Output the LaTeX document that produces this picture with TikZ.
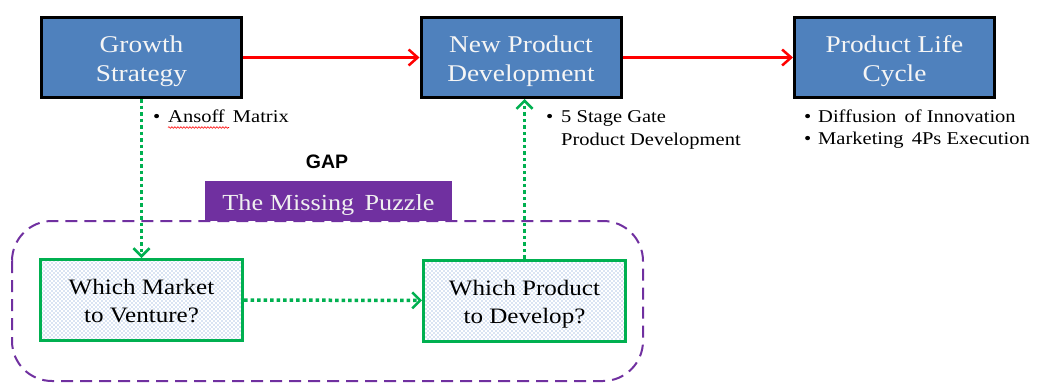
\documentclass[tikz,border=0pt]{standalone}
\usepackage{fontspec}
\setmainfont[FakeStretch=1.14]{Liberation Serif}
\newfontfamily\gapfont{Liberation Sans}
\usetikzlibrary{arrows.meta,patterns,decorations.pathmorphing}
\definecolor{boxblue}{RGB}{79,129,189}
\definecolor{arrred}{RGB}{255,0,0}
\definecolor{grn}{RGB}{0,176,80}
\definecolor{purp}{RGB}{112,48,160}
\definecolor{dotblue}{RGB}{95,140,205}
\pgfdeclarepatternformonly{stipple}{\pgfqpoint{-1pt}{-1pt}}{\pgfqpoint{3pt}{3pt}}{\pgfqpoint{4pt}{4pt}}%
{\pgfpathcircle{\pgfqpoint{0pt}{0pt}}{0.7pt}\pgfpathcircle{\pgfqpoint{2pt}{2pt}}{0.7pt}\pgfusepath{fill}}
\tikzset{
  bluebox/.style={draw=black, line width=3pt, fill=boxblue,
    minimum width=200pt, minimum height=80pt, inner sep=0pt},
  bluetext/.style={text={rgb,255:red,245;green,245;blue,245}, align=center, inner sep=0pt,
    font=\fontsize{24}{29}\selectfont},
  greenbox/.style={draw=grn, line width=3pt, pattern=stipple, pattern color=dotblue,
    minimum width=202pt, minimum height=81pt, inner sep=0pt},
  greentext/.style={align=center, inner sep=0pt, font=\fontsize{22}{28}\selectfont},
  redarrow/.style={draw=arrred, line width=2.5pt, -{Straight Barb[length=9pt,width=16pt,line width=2.5pt]}},
  greenarrow/.style={draw=grn, line width=3.5pt, dash pattern=on 3.5pt off 3pt,
    -{Straight Barb[length=8pt,width=16pt,line width=2.5pt]}},
  bullettext/.style={anchor=base west, inner sep=0pt, font=\fontsize{18}{23}\selectfont},
}
\begin{document}
\begin{tikzpicture}[x=1pt,y=-1pt]
\useasboundingbox (0,0) rectangle (1037,383);
% dashed gap region
\draw[purp, line width=2pt, dash pattern=on 12pt off 7pt, rounded corners=40pt]
  (12,221) rectangle (643,381);
% top boxes
\node[bluebox] (gs) at (141.5,57.5) {};
\node[bluetext] (gst) at ([yshift=-4pt]gs.center) {Growth\\Strategy};
\node[bluebox] (npd) at (521,57.5) {};
\node[bluetext] (npdt) at ([yshift=-4pt]npd.center) {New Product\\Development};
\node[bluebox] (plc) at (894.5,57.5) {};
\node[bluetext] (plct) at ([yshift=-4pt]plc.center) {Product Life\\Cycle};
\draw[redarrow] (gs) -- (npd);
\draw[redarrow] (npd) -- (plc);
% bullets
\node[bullettext] (b1) at (153,122.5) {•};
\node[bullettext] (t1) at (168,122.5) {Ansoff\, Matrix};
\draw[arrred, line width=0.6pt, decorate, decoration={snake, amplitude=0.8pt, segment length=3pt}]
  (168,127.5) -- (229,127.5);
\node[bullettext] (b2) at (546,122) {•};
\node[bullettext] (t2) at (561,122) {5 Stage Gate};
\node[bullettext] (t3) at (561,145) {Product Development};
\node[bullettext] (b3) at (804,122) {•};
\node[bullettext] (t4) at (818,122) {Diffusion\, of Innovation};
\node[bullettext] (b4) at (804,144) {•};
\node[bullettext] (t5) at (818,144) {Marketing\, 4Ps Execution};
% GAP
\node[font=\gapfont\bfseries\fontsize{19.5}{22}\selectfont, inner sep=0pt] (gap) at (327,162) {GAP};
\node[fill=purp, minimum width=247pt, minimum height=40pt, inner sep=0pt] (puz) at (328.5,201) {};
\node[text={rgb,255:red,240;green,240;blue,240}, inner sep=0pt, font=\fontsize{23}{27}\selectfont]
  (puzt) at ([yshift=-4pt]puz.center) {The Missing\, Puzzle};
% lower boxes
\node[greenbox] (wm) at (141.5,300) {};
\node[greentext] (wmt) at ([yshift=-1.5pt]wm.center) {Which Market\\to Venture?};
\node[greenbox] (wp) at (524.5,300.5) {};
\node[greentext] (wpt) at ([yshift=-3.5pt]wp.center) {Which Product\\to Develop?};
\draw[greenarrow] (gs) -- (wm);
\draw[greenarrow] (wm) -- (wp);
\draw[greenarrow] (wp.north) -- (wp.north |- npd.south);
\end{tikzpicture}
\end{document}
